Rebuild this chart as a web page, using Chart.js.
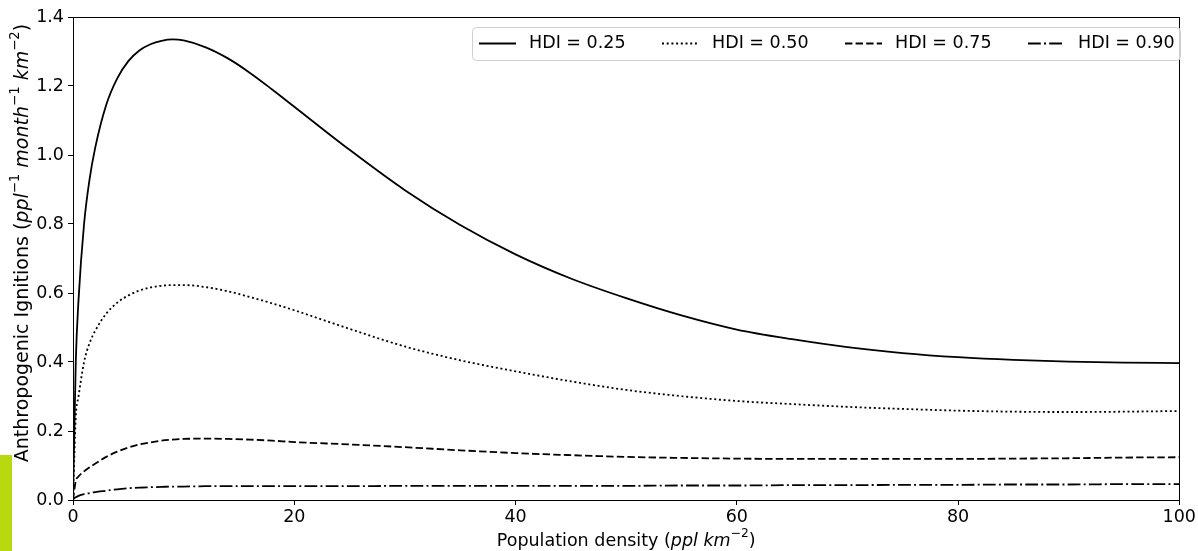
<!DOCTYPE html>
<html>
<head>
<meta charset="utf-8">
<script src="https://cdn.jsdelivr.net/npm/chart.js@4/dist/chart.umd.min.js"></script>
<style>
  body { margin: 0; background: #fff; }
  #wrap { position: relative; width: 1198px; height: 551px; }
  #tab { position: absolute; left: 0; top: 455px; width: 12px; height: 96px; background: #b8d80f; }
</style>
</head>
<body>
<div id="wrap">
  <canvas id="chart"></canvas>
  <div id="tab"></div>
</div>
<script>
'use strict'

// population density (ppl km-2)
var density = [0, 0.25, 0.5, 1, 1.5, 2, 3, 4, 5, 6, 7, 8, 9, 10, 12, 14, 16, 18, 20, 25, 30, 35, 40, 45, 50, 55, 60, 65, 70, 75, 80, 85, 90, 95, 100];

var hdi025 = [0, 0.40, 0.58, 0.80, 0.93, 1.02, 1.145, 1.222, 1.272, 1.303, 1.321, 1.331, 1.335, 1.332, 1.312, 1.28, 1.238, 1.19, 1.14, 1.015, 0.898, 0.797, 0.712, 0.642, 0.585, 0.535, 0.494, 0.466, 0.443, 0.426, 0.414, 0.406, 0.401, 0.398, 0.397];
var hdi050 = [0, 0.24, 0.30, 0.40, 0.455, 0.49, 0.54, 0.572, 0.593, 0.607, 0.616, 0.621, 0.623, 0.623, 0.617, 0.605, 0.588, 0.57, 0.55, 0.496, 0.445, 0.405, 0.373, 0.344, 0.319, 0.301, 0.287, 0.278, 0.27, 0.264, 0.259, 0.256, 0.255, 0.256, 0.258];
var hdi075 = [0, 0.055, 0.068, 0.083, 0.095, 0.105, 0.125, 0.14, 0.152, 0.161, 0.167, 0.172, 0.175, 0.177, 0.178, 0.177, 0.175, 0.172, 0.168, 0.161, 0.153, 0.144, 0.136, 0.13, 0.125, 0.122, 0.12, 0.119, 0.119, 0.119, 0.119, 0.12, 0.121, 0.123, 0.124];
var hdi090 = [0.002, 0.008, 0.012, 0.017, 0.02, 0.023, 0.027, 0.031, 0.034, 0.036, 0.037, 0.038, 0.039, 0.039, 0.04, 0.04, 0.04, 0.04, 0.04, 0.04, 0.041, 0.041, 0.041, 0.041, 0.041, 0.042, 0.042, 0.043, 0.043, 0.044, 0.044, 0.045, 0.045, 0.046, 0.046];

var seriesLabels = ['HDI = 0.25', 'HDI = 0.50', 'HDI = 0.75', 'HDI = 0.90'];
var xTicks = [0, 20, 40, 60, 80, 100];
var yTicks = [0, 0.2, 0.4, 0.6, 0.8, 1.0, 1.2, 1.4];

var FONT = "'DejaVu Sans', sans-serif";
var FS = 17.5;

function pts(ys) {
	return density.map(function(x, k) { return {x: x, y: ys[k]}; });
}

function line(label, ys, dash) {
	return {
		label: label,
		data: pts(ys),
		borderColor: '#000',
		borderWidth: 1.8,
		borderDash: dash,
		borderCapStyle: 'butt',
		pointRadius: 0,
		fill: false,
		cubicInterpolationMode: 'monotone'
	};
}

// draw text pieces with italics / superscripts, centred on (0,0)
function richText(ctx, parts, size) {
	var sub = size * 0.7, w = 0;
	parts.forEach(function(p) {
		ctx.font = (p.it ? 'italic ' : '') + (p.sup ? sub : size) + 'px ' + FONT;
		p.w = ctx.measureText(p.t).width;
		w += p.w;
	});
	var x = -w / 2;
	ctx.textBaseline = 'middle';
	ctx.textAlign = 'left';
	parts.forEach(function(p) {
		ctx.font = (p.it ? 'italic ' : '') + (p.sup ? sub : size) + 'px ' + FONT;
		ctx.fillText(p.t, x, p.sup ? -size * 0.4 : 0);
		x += p.w;
	});
}

var decor = {
	id: 'decor',
	afterDraw: function(chart) {
		var c = chart.ctx, a = chart.chartArea;
		c.save();
		c.fillStyle = '#000';
		c.strokeStyle = '#000';
		c.lineWidth = 1;
		c.strokeRect(Math.round(a.left) + 0.5, Math.round(a.top) + 0.5, Math.round(a.right - a.left), Math.round(a.bottom - a.top));

		// axis titles
		c.save();
		c.translate(23, 243);
		c.rotate(-Math.PI / 2);
		richText(c, [
			{t: 'Anthropogenic Ignitions ('},
			{t: 'ppl', it: true}, {t: '\u22121', sup: true},
			{t: ' month', it: true}, {t: '\u22121', sup: true},
			{t: ' km', it: true}, {t: '\u22122', sup: true},
			{t: ')'}
		], 19);
		c.restore();
		c.save();
		c.translate((a.left + a.right) / 2, 541);
		richText(c, [
			{t: 'Population density ('},
			{t: 'ppl km', it: true}, {t: '\u22122', sup: true},
			{t: ')'}
		], FS);
		c.restore();

		// legend box inside the plot
		var bx = 472, by = 27, bw = 708, bh = 33;
		c.fillStyle = 'rgba(255,255,255,0.8)';
		c.strokeStyle = '#d0d0d0';
		c.beginPath();
		c.roundRect(bx + 0.5, by + 0.5, bw, bh, 4);
		c.fill();
		c.stroke();
		chart.data.datasets.forEach(function(ds, k) {
			var lx = 479 + k * 183, ly = 43.5;
			c.strokeStyle = '#000';
			c.lineWidth = 1.8;
			c.setLineDash(ds.borderDash);
			c.beginPath();
			c.moveTo(lx, ly);
			c.lineTo(lx + 37, ly);
			c.stroke();
			c.setLineDash([]);
			c.fillStyle = '#000';
			c.font = FS + 'px ' + FONT;
			c.textAlign = 'left';
			c.textBaseline = 'middle';
			c.fillText(ds.label, lx + 50, ly);
		});
		c.restore();
	}
};

window.onload = function() {
	var ctx = document.getElementById('chart').getContext('2d');

	var chart = new Chart(ctx, {
		type: 'line',
		data: {
			datasets: [
				line(seriesLabels[0], hdi025, []),
				line(seriesLabels[1], hdi050, [2, 2.7]),
				line(seriesLabels[2], hdi075, [7.4, 3.2]),
				line(seriesLabels[3], hdi090, [12.8, 3.2, 2, 3.2])
			]
		},
		options: {
			responsive: true,
			maintainAspectRatio: false,
			animation: false,
			layout: { padding: { top: 17, right: 12, left: 0, bottom: 0 } },
			plugins: { legend: { display: false }, tooltip: { enabled: false } },
			scales: {
				x: {
					type: 'linear',
					min: 0, max: 100,
					afterBuildTicks: function(s) { s.ticks = xTicks.map(function(v) { return {value: v}; }); },
					afterFit: function(s) { s.height = 51; },
					grid: { drawOnChartArea: false, drawTicks: true, tickLength: 5, color: '#000' },
					border: { display: false },
					ticks: { color: '#000', font: { family: FONT, size: FS }, padding: 2, maxRotation: 0 }
				},
				y: {
					min: 0, max: 1.4,
					afterBuildTicks: function(s) { s.ticks = yTicks.map(function(v) { return {value: v}; }); },
					afterFit: function(s) { s.width = 73; },
					grid: { drawOnChartArea: false, drawTicks: true, tickLength: 5, color: '#000' },
					border: { display: false },
					ticks: {
						color: '#000', font: { family: FONT, size: FS }, padding: 4,
						callback: function(v) { return v.toFixed(1); }
					}
				}
			}
		},
		plugins: [decor]
	});
};
</script>
</body>
</html>
